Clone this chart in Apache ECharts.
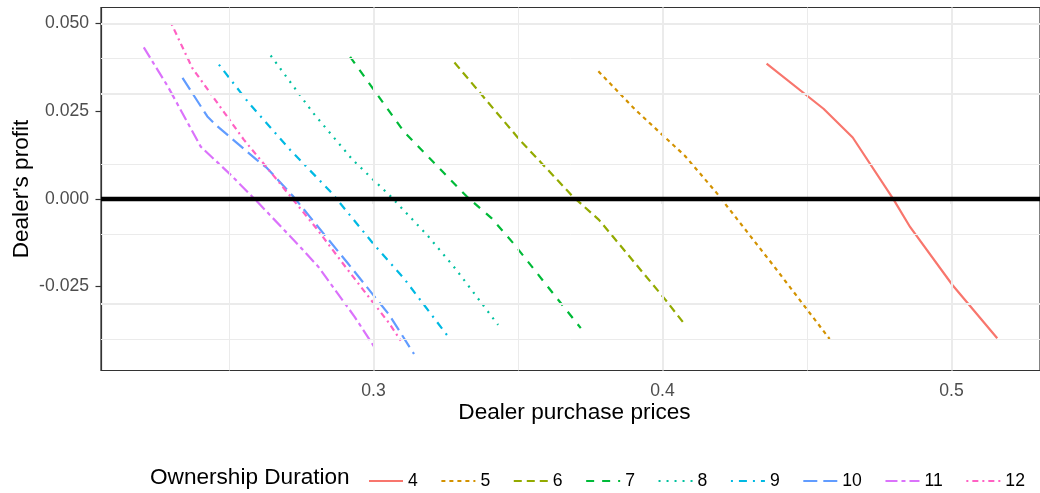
<!DOCTYPE html>
<html><head><meta charset="utf-8">
<script src="https://cdn.jsdelivr.net/npm/echarts@6/dist/echarts.min.js"></script>
<style>html,body{margin:0;padding:0;background:#fff}#c{width:1040px;height:493px}</style>
</head><body><div id="c"></div><script>
const durations = ['4','5','6','7','8','9','10','11','12'];
const price4 = [0.4360,0.4557,0.4658,0.4798,0.4857,0.5003,0.5158];
const profit4 = [0.0386,0.0257,0.0175,0.0000,-0.0081,-0.0246,-0.0398];
const price5 = [0.3778,0.3906,0.4077,0.4187,0.4386,0.4578];
const profit5 = [0.0364,0.0254,0.0123,0.0017,-0.0193,-0.0400];
const price6 = [0.3280,0.3505,0.3580,0.3689,0.3780,0.4009,0.4080];
const profit6 = [0.0389,0.0169,0.0103,0.0007,-0.0060,-0.0287,-0.0362];
const price7 = [0.2919,0.3106,0.3220,0.3322,0.3408,0.3488,0.3603,0.3717];
const profit7 = [0.0405,0.0191,0.0094,0.0007,-0.0055,-0.0131,-0.0251,-0.0369];
const price8 = [0.2644,0.2791,0.2928,0.3059,0.3185,0.3282,0.3431];
const profit8 = [0.0409,0.0245,0.0111,0.0007,-0.0103,-0.0198,-0.0360];
const price9 = [0.2465,0.2568,0.2711,0.2854,0.3002,0.3105,0.3256];
const profit9 = [0.0383,0.0274,0.0140,0.0018,-0.0131,-0.0227,-0.0391];
const price10 = [0.2339,0.2425,0.2454,0.2596,0.2631,0.2722,0.2911,0.3054,0.3140];
const profit10 = [0.0345,0.0235,0.0211,0.0111,0.0088,0.0007,-0.0184,-0.0331,-0.0443];
const price11 = [0.2205,0.2288,0.2402,0.2505,0.2602,0.2739,0.2808,0.2934,0.3002];
const profit11 = [0.0432,0.0321,0.0149,0.0069,-0.0012,-0.0131,-0.0193,-0.0336,-0.0422];
const price12 = [0.2301,0.2373,0.2551,0.2671,0.2802,0.2911,0.3054,0.3094];
const profit12 = [0.0499,0.0373,0.0169,0.0049,-0.0084,-0.0203,-0.0355,-0.0405];
const xTicks = [0.3,0.4,0.5];
const yTicks = [-0.025,0,0.025,0.05];
const xMinor = [0.25,0.35,0.45];
const yMinor = [-0.0375,-0.0125,0.0125,0.0375];
const refLine = 0;

const prices = [price4,price5,price6,price7,price8,price9,price10,price11,price12];
const profits = [profit4,profit5,profit6,profit7,profit8,profit9,profit10,profit11,profit12];
const colors = ['#F8766D','#D39200','#93AA00','#00BA38','#00C19F','#00B9E3','#619CFF','#DB72FB','#FF61C3'];
const dashes = ['solid',[4,4],[8,5],[8,8],[2,6],[2,6,8,6],[14,6],[12,4,4,4],[2,4,6,4]];
const FONT = '"Liberation Sans", Arial, Helvetica, sans-serif';

const chart = echarts.init(document.getElementById('c'), null, {renderer:'canvas'});
const gridLines = [];
xTicks.forEach(v=>gridLines.push({xAxis:v, lineStyle:{color:'#EBEBEB', width:2, type:'solid'}}));
yTicks.forEach(v=>gridLines.push({yAxis:v, lineStyle:{color:'#EBEBEB', width:2, type:'solid'}}));
xMinor.forEach(v=>gridLines.push({xAxis:v, lineStyle:{color:'#EBEBEB', width:1, type:'solid'}}));
yMinor.forEach(v=>gridLines.push({yAxis:v, lineStyle:{color:'#EBEBEB', width:1, type:'solid'}}));

const series = [{
  name:'grid', type:'line', data:[], z:1, silent:true,
  markLine:{silent:true, symbol:['none','none'], label:{show:false}, animation:false,
    emphasis:{disabled:true}, data:gridLines}
}];
durations.forEach((d,i)=>{
  series.push({
    name:d, type:'line', showSymbol:false, symbol:'none', z:3, animation:false,
    data: prices[i].map((x,j)=>[x, profits[i][j]]),
    lineStyle:{color:colors[i], width:2.2, type:dashes[i], cap:'butt'},
    itemStyle:{color:colors[i]}
  });
});
series.push({
  name:'zero', type:'line', data:[], z:5, silent:true,
  markLine:{silent:true, symbol:['none','none'], label:{show:false}, animation:false,
    emphasis:{disabled:true},
    data:[{yAxis:refLine, lineStyle:{color:'#000', width:4.3, type:'solid'}}]}
});

chart.setOption({
  animation:false,
  backgroundColor:'#fff',
  grid:{left:101, top:7.5, width:947, height:363, show:true, borderColor:'#333', borderWidth:1.2, backgroundColor:'transparent'},
  xAxis:{type:'value', min:0.2057, max:0.5306,
    splitLine:{show:false},
    axisLine:{show:true, lineStyle:{color:'#333', width:1.2}},
    axisTick:{show:true, customValues:xTicks, length:5.5, lineStyle:{color:'#333', width:1.2}},
    axisLabel:{customValues:xTicks, formatter:v=>v.toFixed(1), color:'#4D4D4D', fontSize:17.6, fontFamily:FONT, margin:12}
  },
  yAxis:{type:'value', min:-0.049, max:0.0546,
    splitLine:{show:false},
    axisLine:{show:true, lineStyle:{color:'#333', width:1.2}},
    axisTick:{show:true, customValues:yTicks, length:5.5, lineStyle:{color:'#333', width:1.2}},
    axisLabel:{customValues:yTicks, formatter:v=>v.toFixed(3), color:'#4D4D4D', fontSize:17.6, fontFamily:FONT, margin:12}
  },
  legend:{data:durations, left:363, top:467, itemWidth:34, itemHeight:22, itemGap:22.6,
    itemStyle:{opacity:0},
    textStyle:{fontSize:17.6, color:'#000', fontFamily:FONT}},
  graphic:[
    {type:'text', x:150, y:478, style:{text:'Ownership Duration', fontSize:22.6, fontFamily:FONT, fill:'#000', textAlign:'left', textVerticalAlign:'middle'}},
    {type:'text', x:574.5, y:413, style:{text:'Dealer purchase prices', fontSize:22.6, fontFamily:FONT, fill:'#000', textAlign:'center', textVerticalAlign:'middle'}},
    {type:'text', x:22, y:189, rotation:Math.PI/2, style:{text:"Dealer's profit", fontSize:22.6, fontFamily:FONT, fill:'#000', textAlign:'center', textVerticalAlign:'middle'}}
  ],
  series:series
});
</script></body></html>
